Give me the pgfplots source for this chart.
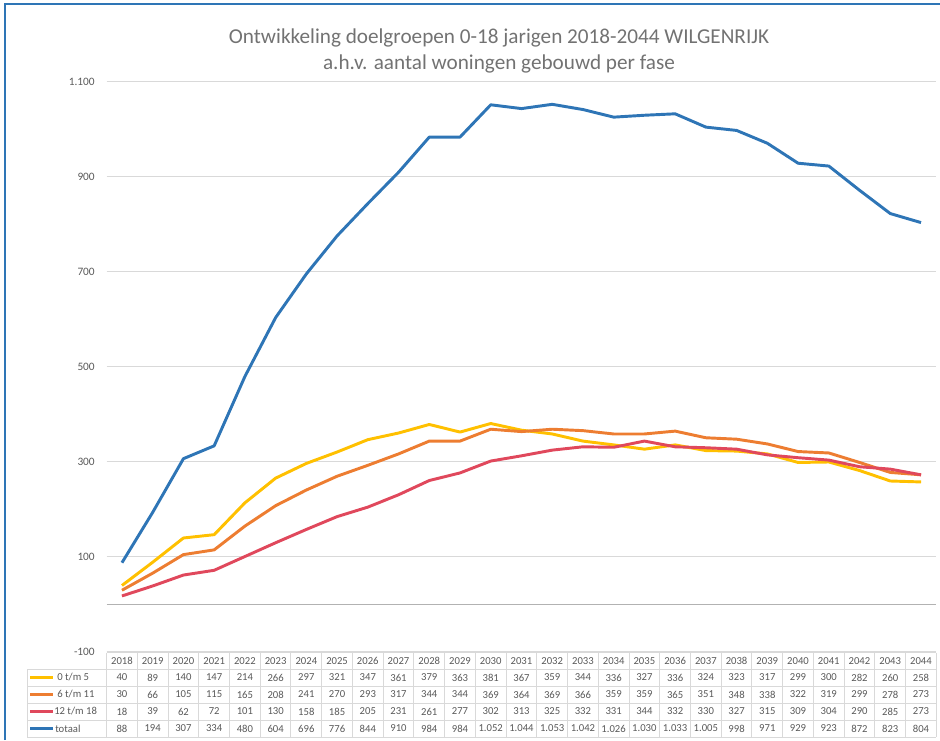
\documentclass[border=0pt]{standalone}
\usepackage{pgfplots}
\pgfplotsset{compat=1.18}
\usepackage{pgfplotstable}
\usepackage{fontspec}
\setmainfont{Carlito}
\definecolor{cA}{RGB}{255,192,0}
\definecolor{cB}{RGB}{237,125,49}
\definecolor{cC}{RGB}{224,72,92}
\definecolor{cD}{RGB}{46,117,182}
\definecolor{txt}{RGB}{89,89,89}
\definecolor{grd}{RGB}{217,217,217}

\pgfplotstableread{
i year a b c tot
0 2018 40 30 18 88
1 2019 89 66 39 194
2 2020 140 105 62 307
3 2021 147 115 72 334
4 2022 214 165 101 480
5 2023 266 208 130 604
6 2024 297 241 158 696
7 2025 321 270 185 776
8 2026 347 293 205 844
9 2027 361 317 231 910
10 2028 379 344 261 984
11 2029 363 344 277 984
12 2030 381 369 302 1052
13 2031 367 364 313 1044
14 2032 359 369 325 1053
15 2033 344 366 332 1042
16 2034 336 359 331 1026
17 2035 327 359 344 1030
18 2036 336 365 332 1033
19 2037 324 351 330 1005
20 2038 323 348 327 998
21 2039 317 338 315 971
22 2040 299 322 309 929
23 2041 300 319 304 923
24 2042 282 299 290 872
25 2043 260 278 285 823
26 2044 258 273 273 804
}\data

\begin{document}
\begin{tikzpicture}[x=0.75pt,y=0.75pt]
\path[use as bounding box] (0,0) rectangle (940,740);
\draw[cD, line width=1.5pt] (5,0) -- (5,736) -- (940,736);
\node[text=txt!85, align=center, font=\fontsize{15.9}{19.5}\selectfont] at (499,689) {Ontwikkeling doelgroepen 0-18 jarigen 2018-2044 WILGENRIJK\\a.h.v. aantal woningen gebouwd per fase};
\begin{axis}[at={(79.95pt,66pt)}, anchor=south west, scale only axis,
  width=622.35pt, height=427.5pt,
  xmin=-0.5, xmax=26.5, ymin=-100, ymax=1100,
  ytick={-100,100,300,500,700,900,1100},
  yticklabels={-100,100,300,500,700,900,1.100},
  xtick=\empty, axis line style={draw=none},
  ymajorgrids, grid style={grd, line width=0.75pt},
  major tick length=0pt,
  yticklabel style={font=\fontsize{8.5}{10}\selectfont, text=txt, inner sep=0pt, xshift=-8.7pt},
  extra y ticks={0}, extra y tick labels={},
  extra y tick style={grid style={color=black!30, line width=0.75pt}},
  clip=false]
\addplot[cA, line width=2.2pt, line join=round, no marks] table[x=i,y=a]{\data};
\addplot[cB, line width=2.2pt, line join=round, no marks] table[x=i,y=b]{\data};
\addplot[cC, line width=2.2pt, line join=round, no marks] table[x=i,y=c]{\data};
\addplot[cD, line width=2.2pt, line join=round, no marks] table[x=i,y=tot]{\data};
\end{axis}
% data table
\begin{scope}[grd, line width=0.75pt]
\draw (106.6,87) -- (936.4,87);
\foreach \yy in {71,54,37,20,3} \draw (27,\yy) -- (936.4,\yy);
\draw (27,71) -- (27,3);
\foreach \k in {0,...,27} \draw ({106.6+30.73*\k},87) -- ({106.6+30.73*\k},3);
\end{scope}
\begin{scope}[every node/.style={text=txt, font=\fontsize{8}{9.6}\selectfont, inner sep=0pt}]
\foreach \k in {0,...,26} {\pgfmathtruncatemacro\yr{2018+\k}\node at ({121.97+30.73*\k},79) {\yr};}
\foreach \v [count=\k from 0] in {40,89,140,147,214,266,297,321,347,361,379,363,381,367,359,344,336,327,336,324,323,317,299,300,282,260,258}
  \node at ({121.97+30.73*\k},62.5) {\v};
\foreach \v [count=\k from 0] in {30,66,105,115,165,208,241,270,293,317,344,344,369,364,369,366,359,359,365,351,348,338,322,319,299,278,273}
  \node at ({121.97+30.73*\k},45.5) {\v};
\foreach \v [count=\k from 0] in {18,39,62,72,101,130,158,185,205,231,261,277,302,313,325,332,331,344,332,330,327,315,309,304,290,285,273}
  \node at ({121.97+30.73*\k},28.5) {\v};
\foreach \v [count=\k from 0] in {88,194,307,334,480,604,696,776,844,910,984,984,1.052,1.044,1.053,1.042,1.026,1.030,1.033,1.005,998,971,929,923,872,823,804}
  \node at ({121.97+30.73*\k},11.5) {\v};
\draw[cA, line width=2.2pt] (30,62.5) -- (53,62.5); \node[anchor=west] at (57,62.5) {0 t/m 5};
\draw[cB, line width=2.2pt] (30,45.5) -- (53,45.5); \node[anchor=west] at (57,45.5) {6 t/m 11};
\draw[cC, line width=2.2pt] (30,28.5) -- (53,28.5); \node[anchor=west] at (54,28.5) {12 t/m 18};
\draw[cD, line width=2.2pt] (30,11.5) -- (53,11.5); \node[anchor=west] at (55,11.5) {totaal};
\end{scope}
\end{tikzpicture}
\end{document}
